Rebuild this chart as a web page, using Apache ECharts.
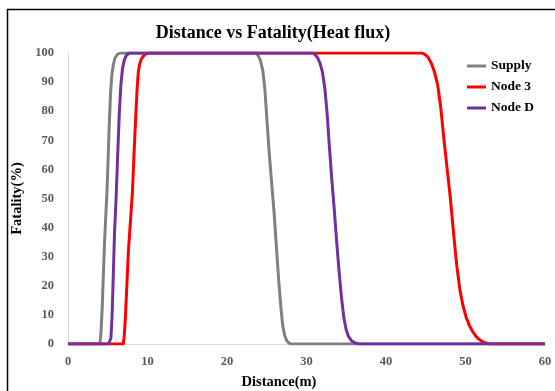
<!DOCTYPE html>
<html>
<head>
<meta charset="utf-8">
<script src="https://cdn.jsdelivr.net/npm/echarts@6/dist/echarts.min.js"></script>
<style>
  html, body { margin: 0; padding: 0; background: #fff; }
  #main { width: 555px; height: 391px; }
</style>
</head>
<body>
<div id="main"></div>
<script>
// distance (m), fatality (%) pairs
var supply = [
  [0, 0], [3.95, 0], [4.05, 1], [4.15, 4], [4.3, 12], [4.45, 24], [4.6, 35], [4.75, 44],
  [4.9, 52], [5.05, 64], [5.2, 76], [5.35, 86], [5.5, 92], [5.7, 96], [5.9, 98.2],
  [6.2, 99.5], [6.6, 100], [23.6, 100], [23.9, 99.2], [24.2, 97.5], [24.5, 94],
  [24.75, 88], [25.0, 78], [25.3, 66], [25.6, 56], [25.9, 46], [26.2, 34], [26.5, 22],
  [26.8, 12], [27.0, 6.5], [27.25, 3], [27.5, 1.2], [27.8, 0.3], [28.1, 0], [60, 0]
];
var node3 = [
  [0, 0], [6.95, 0], [7.05, 2], [7.2, 8], [7.4, 20], [7.6, 32], [7.85, 42], [8.1, 52],
  [8.3, 65], [8.5, 77], [8.7, 88], [8.85, 93.5], [9.0, 96], [9.2, 97.8], [9.5, 99],
  [9.8, 99.7], [10.2, 100], [44.5, 100], [44.9, 99.5], [45.3, 98.5], [45.7, 96.5],
  [46.1, 93.5], [46.5, 89], [46.9, 81], [47.3, 70], [47.7, 60], [48.1, 50], [48.5, 38],
  [48.9, 27], [49.3, 18.5], [49.7, 13], [50.1, 9], [50.5, 6.3], [50.9, 4.3], [51.3, 2.7],
  [51.7, 1.6], [52.2, 0.7], [52.7, 0.2], [53.1, 0], [60, 0]
];
var nodeD = [
  [0, 0], [5.1, 0], [5.25, 0.5], [5.4, 2], [5.55, 10], [5.7, 24], [5.85, 38], [6.05, 50],
  [6.25, 65], [6.45, 79], [6.65, 89], [6.85, 94.5], [7.05, 97.3], [7.3, 99], [7.6, 99.8],
  [7.9, 100], [30.8, 100], [31.1, 99.4], [31.4, 98.3], [31.7, 96.5], [32.0, 93.5],
  [32.3, 88], [32.6, 79], [32.9, 67], [33.2, 56], [33.5, 46], [33.8, 35], [34.1, 25],
  [34.4, 16], [34.7, 9], [35.0, 4.8], [35.3, 2.5], [35.7, 1], [36.2, 0.3], [36.7, 0], [60, 0]
];
var seriesNames = ['Supply', 'Node 3', 'Node D'];
var seriesColors = ['#808080', '#ff0000', '#7030a0'];
var xTicks = [0, 10, 20, 30, 40, 50, 60];
var yTicks = [0, 10, 20, 30, 40, 50, 60, 70, 80, 90, 100];

var serif = '"Liberation Serif", "DejaVu Serif", serif';
var chart = echarts.init(document.getElementById('main'));

function makeLine(name, data, color) {
  return {
    name: name,
    type: 'line',
    data: data,
    smooth: false,
    showSymbol: false,
    symbol: 'none',
    lineStyle: { color: color, width: 3, join: 'round' },
    itemStyle: { color: color }
  };
}

var option = {
  backgroundColor: '#fff',
  animation: false,
  title: {
    text: 'Distance vs Fatality(Heat flux)',
    left: 268, top: 19, textAlign: 'center',
    textStyle: { fontFamily: serif, fontWeight: 'bold', fontSize: 18, color: '#000' }
  },
  legend: {
    orient: 'vertical',
    left: 462, top: 54,
    itemWidth: 19, itemHeight: 3, itemGap: 7,
    icon: 'rect',
    data: seriesNames,
    textStyle: { fontFamily: serif, fontWeight: 'bold', fontSize: 13.5, color: '#000' }
  },
  grid: { left: 68, right: 10, top: 53, bottom: 47, outerBoundsMode: 'none' },
  xAxis: {
    type: 'value', min: xTicks[0], max: xTicks[xTicks.length - 1], interval: 10,
    name: 'Distance(m)', nameLocation: 'middle', nameGap: 31,
    nameTextStyle: { fontFamily: serif, fontWeight: 'bold', fontSize: 14.5, color: '#000', padding: [0, 55, 0, 0] },
    axisLine: { lineStyle: { color: '#d9d9d9', width: 1 } },
    axisTick: { show: false },
    splitLine: { show: false },
    axisLabel: { fontFamily: serif, fontWeight: 'bold', fontSize: 12.5, color: '#595959', margin: 11 }
  },
  yAxis: {
    type: 'value', min: yTicks[0], max: yTicks[yTicks.length - 1], interval: 10,
    name: 'Fatality(%)', nameLocation: 'middle', nameGap: 37,
    nameTextStyle: { fontFamily: serif, fontWeight: 'bold', fontSize: 14.5, color: '#000' },
    axisLine: { show: true, lineStyle: { color: '#d9d9d9', width: 1 } },
    axisTick: { show: false },
    splitLine: { show: false },
    axisLabel: { fontFamily: serif, fontWeight: 'bold', fontSize: 12.5, color: '#595959', margin: 14 }
  },
  graphic: [{
    type: 'rect', z: 100, silent: true,
    shape: { x: 7.5, y: 9.5, width: 700, height: 600 },
    style: { fill: null, stroke: '#000', lineWidth: 1.5 }
  }],
  series: [
    makeLine(seriesNames[0], supply, seriesColors[0]),
    makeLine(seriesNames[1], node3, seriesColors[1]),
    makeLine(seriesNames[2], nodeD, seriesColors[2])
  ]
};
chart.setOption(option);
</script>
</body>
</html>
